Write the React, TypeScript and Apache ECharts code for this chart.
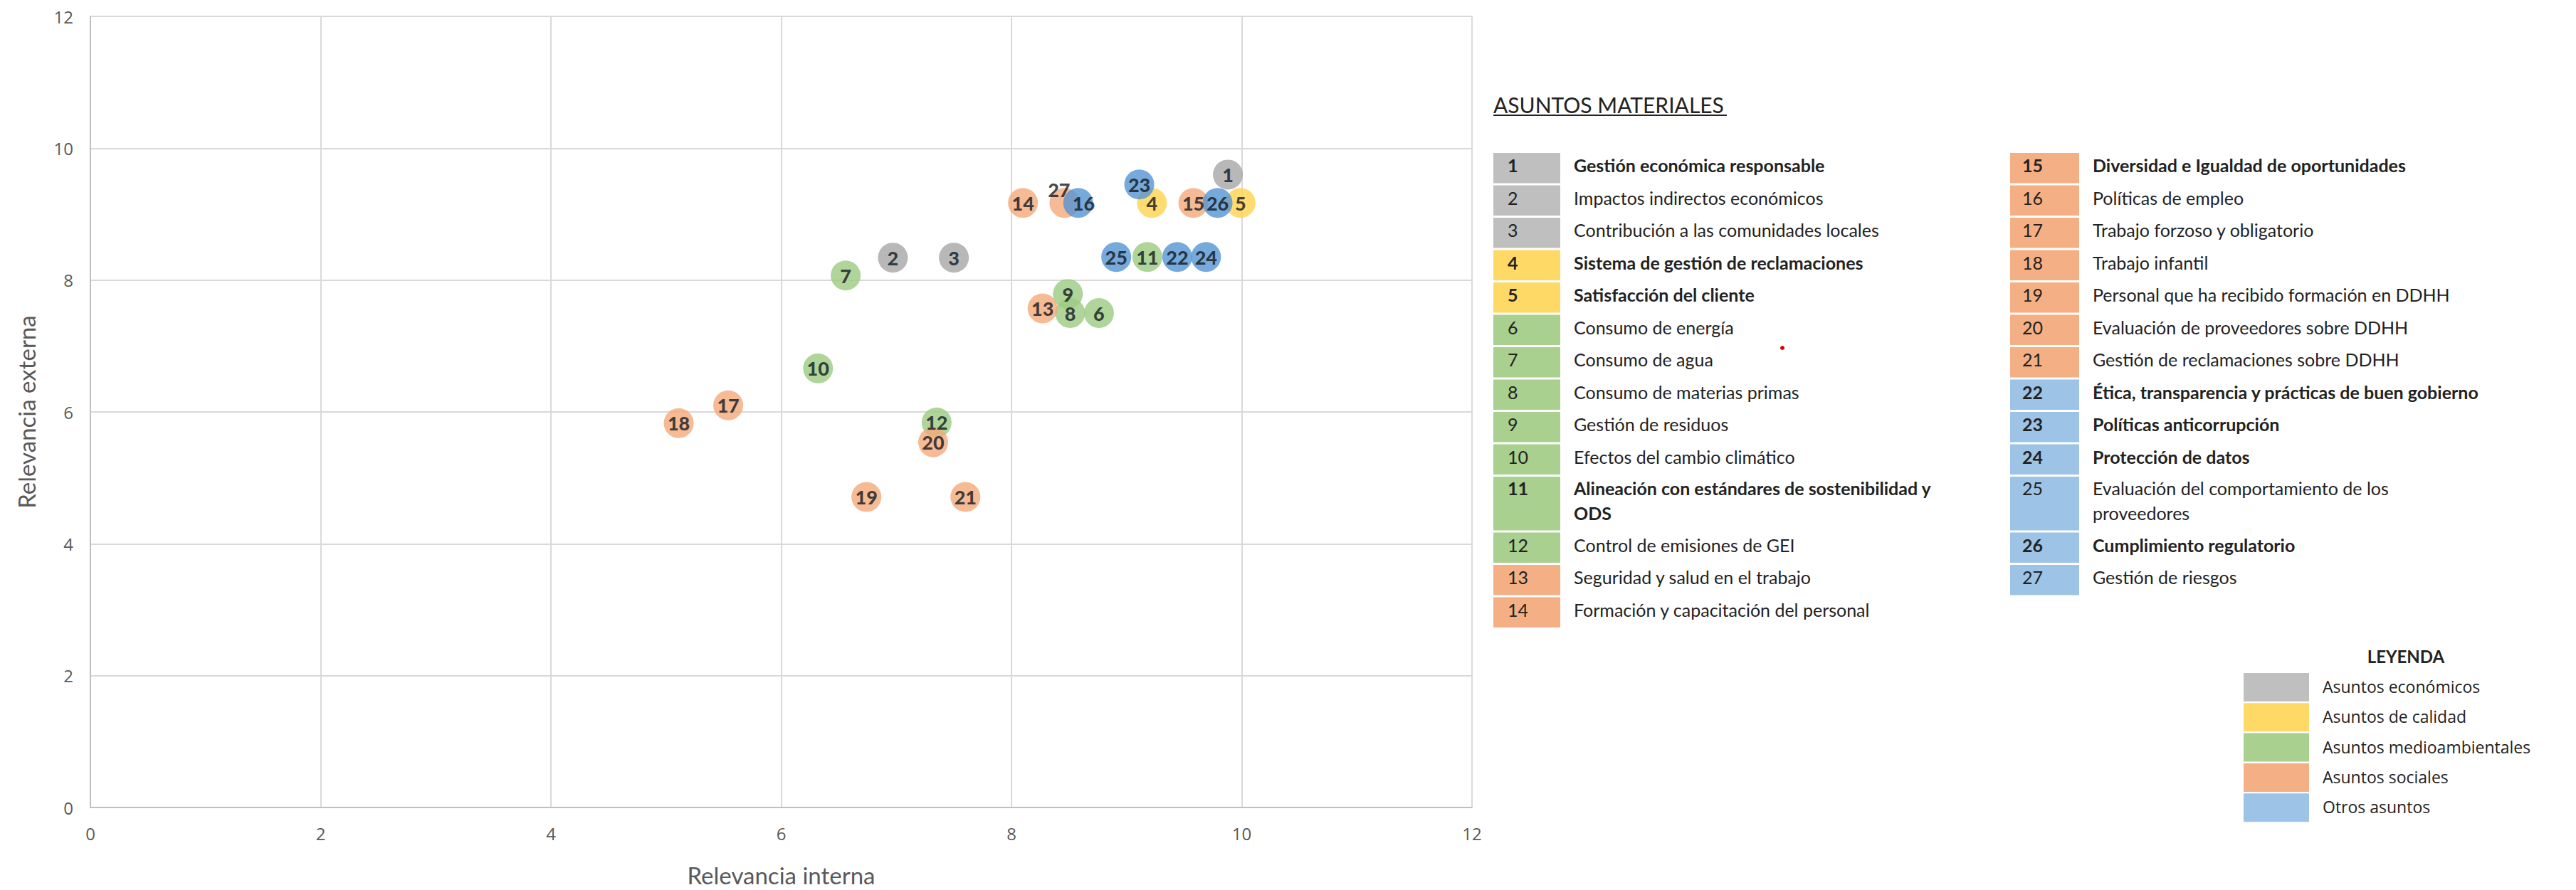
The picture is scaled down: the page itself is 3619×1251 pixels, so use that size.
import React, { useEffect, useRef } from "react";
import * as echarts from "echarts";

// ---------- DATA ----------
const categoryNames = [
  "Asuntos económicos",
  "Asuntos de calidad",
  "Asuntos medioambientales",
  "Asuntos sociales",
  "Otros asuntos",
];
const markerColors = ["#A6A6A6", "#FFD34F", "#9CCA82", "#F4A97A", "#5595D3"];
const tableColors = ["#BFBFBF", "#FFD966", "#A9D08E", "#F4B084", "#9DC3E6"];

const topicIds = [
  1, 2, 3, 4, 5, 6, 7, 8, 9, 10, 11, 12, 13, 14, 15, 16, 17, 18, 19, 20, 21, 22,
  23, 24, 25, 26, 27,
];
const topicNames = [
  "Gestión económica responsable",
  "Impactos indirectos económicos",
  "Contribución a las comunidades locales",
  "Sistema de gestión de reclamaciones",
  "Satisfacción del cliente",
  "Consumo de energía",
  "Consumo de agua",
  "Consumo de materias primas",
  "Gestión de residuos",
  "Efectos del cambio climático",
  "Alineación con estándares de sostenibilidad y\nODS",
  "Control de emisiones de GEI",
  "Seguridad y salud en el trabajo",
  "Formación y capacitación del personal",
  "Diversidad e Igualdad de oportunidades",
  "Políticas de empleo",
  "Trabajo forzoso y obligatorio",
  "Trabajo infantil",
  "Personal que ha recibido formación en DDHH",
  "Evaluación de proveedores sobre DDHH",
  "Gestión de reclamaciones sobre DDHH",
  "Ética, transparencia y prácticas de buen gobierno",
  "Políticas anticorrupción",
  "Protección de datos",
  "Evaluación del comportamiento de los\nproveedores",
  "Cumplimiento regulatorio",
  "Gestión de riesgos",
];
const topicCategory = [
  0, 0, 0, 1, 1, 2, 2, 2, 2, 2, 2, 2, 3, 3, 3, 3, 3, 3, 3, 3, 3, 4, 4, 4, 4, 4, 4,
];
const boldTopics = [1, 4, 5, 11, 15, 22, 23, 24, 26];

// Relevancia interna (x) and Relevancia externa (y), by topic id 1..27
const relevanciaInterna = [
  9.88, 6.97, 7.5, 9.22, 9.99, 8.76, 6.56, 8.51, 8.49, 6.32, 9.18, 7.35, 8.27,
  8.1, 9.58, 8.46, 5.54, 5.11, 6.74, 7.32, 7.6, 9.44, 9.11, 9.69, 8.91, 9.79,
  8.58,
];
const relevanciaExterna = [
  9.6, 8.34, 8.34, 9.17, 9.17, 7.5, 8.07, 7.5, 7.79, 6.66, 8.35, 5.84, 7.57,
  9.17, 9.17, 9.17, 6.1, 5.83, 4.71, 5.54, 4.71, 8.35, 9.45, 8.35, 8.35, 9.17,
  9.17,
];

const axisTicks = [0, 2, 4, 6, 8, 10, 12];

// label tweaks (style only)
const labelOffsets: Record<number, number[]> = { 16: [27, 0], 27: [-27, -19] };

// ---------- LAYOUT ----------
const W = 3619;
const H = 1251;
const TEXT_COLOR = "#222222";
const AXIS_COLOR = "#595959";

function buildTable(): any[] {
  const els: any[] = [];
  els.push({
    type: "text",
    x: 2098,
    y: 147,
    style: {
      text: "ASUNTOS MATERIALES",
      font: "30px Lato",
      fill: TEXT_COLOR,
      align: "left",
      verticalAlign: "middle",
    },
  });
  els.push({
    type: "line",
    shape: { x1: 2098, y1: 162, x2: 2426, y2: 162 },
    style: { stroke: TEXT_COLOR, lineWidth: 2 },
  });
  const cols = [
    { boxX: 2098, boxW: 94, numX: 2118, textX: 2211 },
    { boxX: 2824, boxW: 97, numX: 2841, textX: 2940 },
  ];
  const rowsPerCol = 14;
  const single = 45.5;
  const dbl = 78.5;
  topicIds.forEach((id, i) => {
    const col = cols[i < rowsPerCol ? 0 : 1];
    const r = i < rowsPerCol ? i : i - rowsPerCol;
    let top = 215;
    for (let k = 0; k < r; k++) top += k === 10 ? dbl : single;
    const h = r === 10 ? dbl : single;
    const bold = boldTopics.indexOf(id) >= 0;
    const font = (bold ? "bold " : "") + "25px Lato";
    els.push({
      type: "rect",
      shape: { x: col.boxX, y: top, width: col.boxW, height: h - 3 },
      style: { fill: tableColors[topicCategory[i]] },
    });
    const twoLine = topicNames[i].indexOf("\n") >= 0;
    const cy = twoLine ? top + 16 : top + 17;
    els.push({
      type: "text",
      x: col.numX,
      y: cy,
      style: {
        text: String(id),
        font,
        fill: TEXT_COLOR,
        align: "left",
        verticalAlign: "middle",
      },
    });
    els.push({
      type: "text",
      x: col.textX,
      y: twoLine ? top - 1.5 : cy,
      style: {
        text: topicNames[i],
        font,
        fill: TEXT_COLOR,
        align: "left",
        verticalAlign: twoLine ? "top" : "middle",
        lineHeight: 35,
      },
    });
  });

  // legend
  els.push({
    type: "text",
    x: 3380,
    y: 922,
    style: {
      text: "LEYENDA",
      font: "bold 24px Lato",
      fill: TEXT_COLOR,
      align: "center",
      verticalAlign: "middle",
    },
  });
  categoryNames.forEach((name, k) => {
    const top = 946 + k * 42.3;
    els.push({
      type: "rect",
      shape: { x: 3152, y: top, width: 92, height: 40 },
      style: { fill: tableColors[k] },
    });
    els.push({
      type: "text",
      x: 3263,
      y: top + 19,
      style: {
        text: name,
        font: "23px 'Open Sans'",
        fill: TEXT_COLOR,
        align: "left",
        verticalAlign: "middle",
      },
    });
  });

  // small red mark present in the reference
  els.push({
    type: "circle",
    shape: { cx: 2504, cy: 489, r: 3 },
    style: { fill: "#E00000" },
  });
  return els;
}

export default function App() {
  const ref = useRef<HTMLDivElement>(null);
  useEffect(() => {
    if (!ref.current) return;
    const chart = echarts.init(ref.current, undefined, { renderer: "svg" });

    // order points by category so that later categories are drawn on top
    const order = topicIds
      .map((_, i) => i)
      .sort((a, b) => topicCategory[a] - topicCategory[b] || a - b);

    const circleData = order.map((i) => ({
      value: [relevanciaInterna[i], relevanciaExterna[i]],
      itemStyle: { color: markerColors[topicCategory[i]] },
    }));
    const labelData = order.map((i) => {
      const id = topicIds[i];
      return {
        value: [relevanciaInterna[i], relevanciaExterna[i]],
        name: String(id),
        label: { offset: labelOffsets[id] || [0, 0] },
      };
    });

    const axisCommon = {
      type: "value",
      min: 0,
      max: 12,
      interval: 2,
      axisLine: { show: true, lineStyle: { color: "#BFBFBF", width: 2 } },
      axisTick: { show: false },
      splitLine: { show: true, lineStyle: { color: "#D9D9D9", width: 2 } },
      nameLocation: "middle",
      nameTextStyle: {
        color: AXIS_COLOR,
        fontSize: 33,
        fontFamily: "Lato",
      },
    };

    chart.setOption({
      animation: false,
      backgroundColor: "#ffffff",
      grid: { left: 127, right: W - 2068, top: 23, bottom: H - 1137 },
      xAxis: {
        ...axisCommon,
        name: "Relevancia interna",
        nameGap: 78,
        axisLabel: {
          color: AXIS_COLOR,
          fontSize: 24,
          fontFamily: "Open Sans",
          margin: 24,
          formatter: (v: number) => (axisTicks.indexOf(v) >= 0 ? String(v) : ""),
        },
      },
      yAxis: {
        ...axisCommon,
        name: "Relevancia externa",
        nameGap: 74,
        axisLabel: {
          color: AXIS_COLOR,
          fontSize: 24,
          fontFamily: "Open Sans",
          margin: 24,
          formatter: (v: number) => (axisTicks.indexOf(v) >= 0 ? String(v) : ""),
        },
      },
      series: [
        {
          type: "scatter",
          z: 2,
          symbol: "circle",
          symbolSize: 42,
          data: circleData,
          label: { show: false },
          emphasis: { disabled: true },
        },
        {
          type: "scatter",
          z: 3,
          symbol: "circle",
          symbolSize: 42,
          itemStyle: { color: "rgba(0,0,0,0)" },
          data: labelData,
          label: {
            show: true,
            position: "inside",
            formatter: "{b}",
            color: "#101820",
            fontWeight: 900,
            fontFamily: "Lato",
            fontSize: 27,
          },
          emphasis: { disabled: true },
        },
      ],
      graphic: buildTable(),
    });
    return () => chart.dispose();
  }, []);
  return (
    <div
      ref={ref}
      style={{ position: "fixed", left: 0, top: 0, width: W, height: H, background: "#fff" }}
    />
  );
}
